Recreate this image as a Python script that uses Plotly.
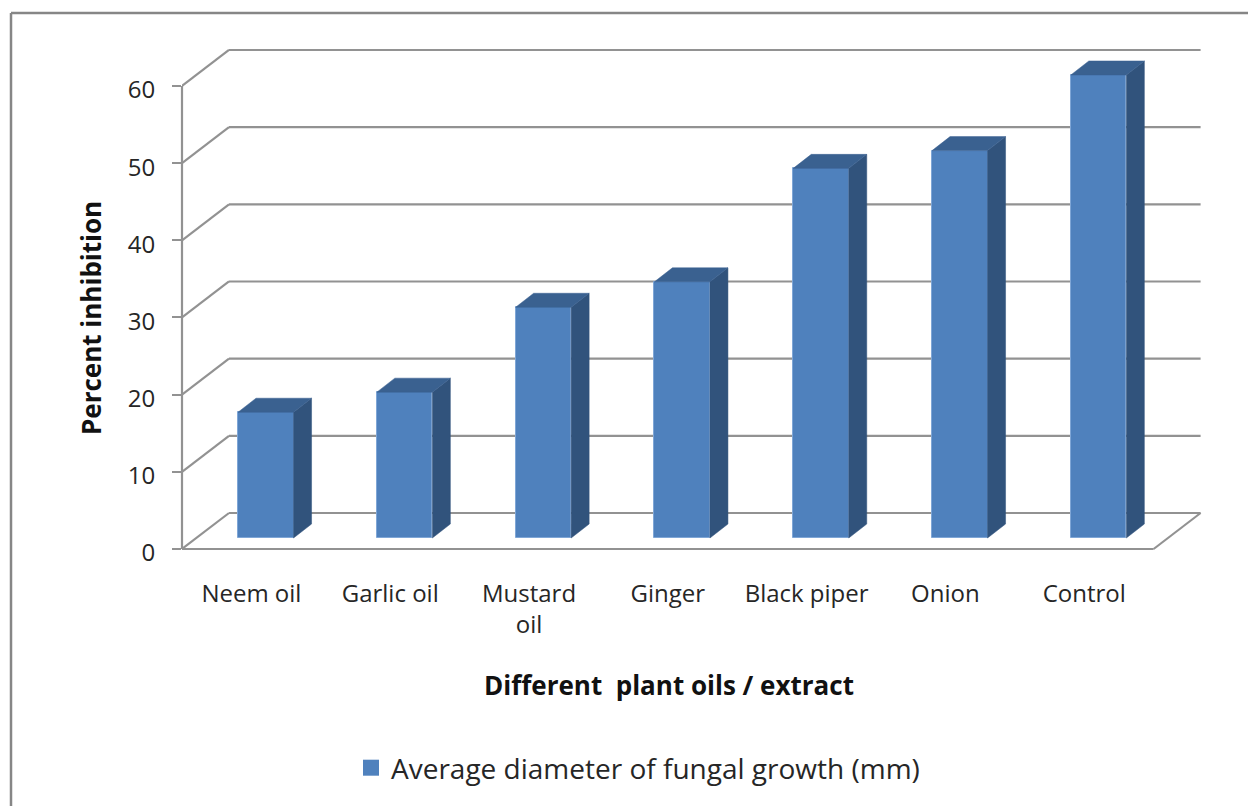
import plotly.graph_objects as go

categories = ["Neem oil", "Garlic oil", "Mustard<br>oil", "Ginger", "Black piper", "Onion", "Control"]
values = [16.3, 18.9, 29.9, 33.2, 47.9, 50.2, 60.0]
y_ticks = [0, 10, 20, 30, 40, 50, 60]
series_name = "Average diameter of fungal growth (mm)"
x_title = "Different  plant oils / extract"
y_title = "Percent inhibition"

FONT = "'Open Sans', 'Noto Sans', sans-serif"
W, H = 1248, 806
PX_L, PX_R, PX_T, PX_B = 182, 1206, 45, 552   # plot rectangle in pixels
PX_PER_CAT = 138.8
PX_PER_VAL = 7.717

def dx(px):
    return px / PX_PER_CAT

def dy(px):
    return px / PX_PER_VAL

x_left = -0.5
x_front_right = 6.5
wall_dx, wall_dy = dx(47), dy(36)
bar_offset, bar_width = dx(14.4), dx(55.5)
bar_base = dy(11)
depth_x, depth_y = dx(18), dy(14)
GRID = "#929292"

front = "#4F81BD"
side = "#31537C"
top = "#3A6190"

fig = go.Figure()
bar_x = [i + bar_offset for i in range(len(values))]
fig.add_trace(go.Bar(x=bar_x, y=values, base=bar_base, width=bar_width, name=series_name,
                     marker=dict(color=front, line=dict(color="#7FA6D6", width=1)),
                     showlegend=False, hoverinfo="skip"))

for cx, v in zip(bar_x, values):
    l, r = cx - bar_width / 2, cx + bar_width / 2
    b, t = bar_base, bar_base + v
    fig.add_trace(go.Scatter(x=[r, r + depth_x, r + depth_x, r, r], y=[b, b + depth_y, t + depth_y, t, b],
                             mode="lines", fill="toself", fillcolor=side, line=dict(color=side, width=0.5),
                             showlegend=False, hoverinfo="skip"))
    fig.add_trace(go.Scatter(x=[l, l + depth_x, r + depth_x, r, l], y=[t, t + depth_y, t + depth_y, t, t],
                             mode="lines", fill="toself", fillcolor=top, line=dict(color=top, width=0.5),
                             showlegend=False, hoverinfo="skip"))

# legend swatch for the series
fig.add_trace(go.Scatter(x=[None], y=[None], mode="markers", name=series_name,
                         marker=dict(symbol="square", size=16, color=front), hoverinfo="skip"))

line = dict(color=GRID, width=2.2)
shapes = []
for v in y_ticks:
    shapes.append(dict(type="line", xref="x", yref="y", layer="below", x0=x_left, y0=v,
                       x1=x_left + wall_dx, y1=v + wall_dy, line=line))
    shapes.append(dict(type="line", xref="x", yref="y", layer="below", x0=x_left + wall_dx, y0=v + wall_dy,
                       x1=x_front_right + wall_dx, y1=v + wall_dy, line=line))
# floor front and right edges, value axis line
shapes.append(dict(type="line", xref="x", yref="y", layer="below", x0=x_left, y0=0, x1=x_front_right, y1=0, line=line))
shapes.append(dict(type="line", xref="x", yref="y", layer="below", x0=x_front_right, y0=0,
                   x1=x_front_right + wall_dx, y1=wall_dy, line=line))
shapes.append(dict(type="line", xref="paper", yref="y", layer="below", x0=0, y0=0, x1=0, y1=y_ticks[-1], line=line))
# outer chart frame: left and top edges
pw, ph = PX_R - PX_L, PX_B - PX_T
fx0 = (11 - PX_L) / pw
fx1 = (W + 10 - PX_L) / pw
fy0 = (PX_B - (H + 10)) / ph
fy1 = (PX_B - 13) / ph
frame = dict(color="#868686", width=2.5)
shapes.append(dict(type="line", xref="paper", yref="paper", x0=fx0, y0=fy0, x1=fx0, y1=fy1, line=frame))
shapes.append(dict(type="line", xref="paper", yref="paper", x0=fx0, y0=fy1, x1=fx1, y1=fy1, line=frame))

title_font = dict(size=26, color="#111111", family=FONT, weight="bold")
annotations = [
    dict(text=x_title, xref="paper", yref="paper", x=(669 - PX_L) / pw, y=(PX_B - 685) / ph,
         xanchor="center", yanchor="middle", showarrow=False, font=title_font),
    dict(text=y_title, xref="paper", yref="paper", x=(91 - PX_L) / pw, y=(PX_B - 318) / ph,
         xanchor="center", yanchor="middle", showarrow=False, textangle=-90, font=title_font),
]

fig.update_layout(
    width=W, height=H, margin=dict(l=PX_L, r=W - PX_R, t=PX_T, b=H - PX_B, autoexpand=False),
    paper_bgcolor="white", plot_bgcolor="white", shapes=shapes, annotations=annotations, bargap=0,
    font=dict(family=FONT, size=24, color="#262626"),
    legend=dict(orientation="h", x=(638 - PX_L) / pw, xanchor="center", y=(PX_B - 768) / ph, yanchor="middle",
                font=dict(size=28, color="#262626"), itemwidth=30, bgcolor="rgba(0,0,0,0)"),
    xaxis=dict(range=[x_left, x_left + dx(PX_R - PX_L)], tickmode="array", tickvals=list(range(len(categories))),
               ticktext=categories, showgrid=False, zeroline=False, showline=False, automargin=False,
               ticks="outside", ticklen=20, tickcolor="rgba(0,0,0,0)"),
    yaxis=dict(range=[-dy(PX_B - 549), dy(549 - PX_T)], tickmode="array", tickvals=y_ticks, showgrid=False,
               zeroline=False, showline=False, automargin=False, ticks="outside", ticklen=9, tickwidth=2, tickcolor=GRID,
               ticklabelstandoff=12, ticklabelshift=4),
)

fig.write_html("out.html", post_script="document.body.style.margin='0';", config=dict(displayModeBar=False))
